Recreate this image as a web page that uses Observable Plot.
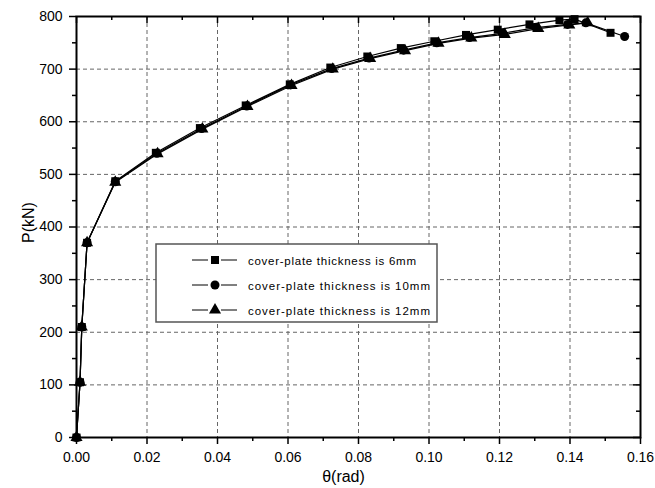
<!DOCTYPE html>
<html><head><meta charset="utf-8">
<script src="https://cdn.jsdelivr.net/npm/d3@7"></script>
<script src="https://cdn.jsdelivr.net/npm/@observablehq/plot@0.6"></script>
<style>
body{margin:0;background:#fff;}
#wrap{position:relative;width:655px;height:488px;}
#wrap svg{font-family:"Liberation Sans",Arial,sans-serif;}
#legend{position:absolute;left:155px;top:243px;}
</style></head><body><div id="wrap"></div>
<script>
// Data
const seriesNames = ["cover-plate thickness is 6mm", "cover-plate thickness is 10mm", "cover-plate thickness is 12mm"];
const theta6  = [0, 0.001, 0.0015, 0.003, 0.011, 0.0225, 0.035, 0.048, 0.0605, 0.072, 0.0825, 0.092, 0.1015, 0.1105, 0.1195, 0.1285, 0.137, 0.1413, 0.1515];
const load6   = [0, 105, 210, 370, 487, 541, 588, 631, 671, 703, 724, 740, 753, 765, 775, 785, 793, 795, 769];
const theta10 = [0, 0.001, 0.0015, 0.003, 0.011, 0.0228, 0.0355, 0.0483, 0.0607, 0.0724, 0.083, 0.0928, 0.1022, 0.1115, 0.1208, 0.1303, 0.1393, 0.1445, 0.1555];
const load10  = [0, 105, 210, 370, 486, 540, 587, 630, 670, 701, 721, 736, 750, 760, 768, 779, 785, 788, 762];
const theta12 = [0, 0.001, 0.0015, 0.003, 0.011, 0.023, 0.0357, 0.0485, 0.061, 0.0727, 0.0833, 0.0932, 0.1027, 0.112, 0.1215, 0.131, 0.1398, 0.145];
const load12  = [0, 105, 210, 370, 485, 539, 586, 629, 669, 700, 720, 735, 749, 759, 766, 777, 784, 788];
const xMajor = [0, 0.02, 0.04, 0.06, 0.08, 0.10, 0.12, 0.14, 0.16];
const xMinor = [0.01, 0.03, 0.05, 0.07, 0.09, 0.11, 0.13, 0.15];
const yMajor = [0, 100, 200, 300, 400, 500, 600, 700, 800];
const yMinor = [50, 150, 250, 350, 450, 550, 650, 750];
const xTitle = "θ(rad)";
const yTitle = "P(kN)";
const symbols = ["square", "circle", "triangle"];

const W = 655, H = 488, mL = 76, mR = 15, mT = 16, mB = 51;
const pw = W - mL - mR, ph = H - mT - mB;

const rows = [];
[[theta6, load6], [theta10, load10], [theta12, load12]].forEach(([t, p], i) => {
  t.forEach((v, j) => rows.push({t: v, p: p[j], s: seriesNames[i]}));
});

const tickFmtX = d3.format(".2f");
const plot = Plot.plot({
  width: W, height: H,
  marginLeft: mL, marginRight: mR, marginTop: mT, marginBottom: mB,
  style: {fontFamily: "Liberation Sans, Arial, sans-serif", fontSize: "14px", color: "black", background: "white", overflow: "visible"},
  x: {domain: [0, 0.16]},
  y: {domain: [0, 800]},
  symbol: {domain: seriesNames, range: symbols},
  marks: [
    Plot.ruleX(xMajor.slice(1, -1), {stroke: "#666", strokeDasharray: "4,3", strokeWidth: 1}),
    Plot.ruleY(yMajor.slice(1, -1), {stroke: "#666", strokeDasharray: "4,3", strokeWidth: 1}),
    Plot.line(rows, {x: "t", y: "p", z: "s", stroke: "black", strokeWidth: 1.2}),
    Plot.dot(rows, {x: "t", y: "p", symbol: "s", fill: "black", stroke: "none", r: 4.5}),
    Plot.frame({stroke: "black", strokeWidth: 2}),
    Plot.axisX({ticks: xMajor, tickSize: 7, tickPadding: 8, tickFormat: tickFmtX, label: null, fontSize: 14, strokeWidth: 1.5}),
    Plot.axisX({ticks: xMinor, tickSize: 4, tickFormat: () => "", label: null, strokeWidth: 1.5}),
    Plot.axisY({ticks: yMajor, tickSize: 7, tickPadding: 7, tickFormat: d3.format("d"), label: null, fontSize: 14, strokeWidth: 1.5}),
    Plot.axisY({ticks: yMinor, tickSize: 4, tickFormat: () => "", label: null, strokeWidth: 1.5}),
    Plot.ruleX(xMajor, {insetBottom: ph - 7, stroke: "black", strokeWidth: 1.5}),
    Plot.ruleX(xMinor, {insetBottom: ph - 4, stroke: "black", strokeWidth: 1.5}),
    Plot.ruleY(yMajor, {insetLeft: pw - 7, stroke: "black", strokeWidth: 1.5}),
    Plot.ruleY(yMinor, {insetLeft: pw - 4, stroke: "black", strokeWidth: 1.5}),
    Plot.text([xTitle], {frameAnchor: "bottom", dy: 44, dx: -15, text: d => d, fontSize: 16, fill: "black"}),
    Plot.text([yTitle], {frameAnchor: "left", dx: -48, dy: 16, rotate: -90, text: d => d, fontSize: 16, fill: "black"})
  ]
});
const wrap = document.getElementById("wrap");
wrap.appendChild(plot);

// Legend (inside plot area, as in reference)
const lw = 282, lh = 79;
const leg = d3.select(wrap).append("svg").attr("id", "legend").attr("width", lw + 2).attr("height", lh + 2);
leg.append("rect").attr("x", 1).attr("y", 1).attr("width", lw - 1).attr("height", lh - 1)
  .attr("fill", "white").attr("stroke", "#555").attr("stroke-width", 1.5);
const symMap = {square: d3.symbolSquare, circle: d3.symbolCircle, triangle: d3.symbolTriangle};
const textLens = [168, 182, 182];
seriesNames.forEach((name, i) => {
  const cy = 17 + i * 25;
  const g = leg.append("g");
  g.append("line").attr("x1", 37).attr("x2", 53).attr("y1", cy).attr("y2", cy).attr("stroke", "black");
  g.append("line").attr("x1", 66).attr("x2", 82).attr("y1", cy).attr("y2", cy).attr("stroke", "black");
  g.append("path").attr("d", d3.symbol(symMap[symbols[i]], Math.PI * 4.5 * 4.5)())
    .attr("transform", `translate(60,${cy})`).attr("fill", "black");
  g.append("text").attr("x", 93).attr("y", cy + 5).attr("font-size", 11.5)
    .attr("textLength", textLens[i]).attr("lengthAdjust", "spacing")
    .attr("fill", "black").text(name);
});
</script>
</body></html>
